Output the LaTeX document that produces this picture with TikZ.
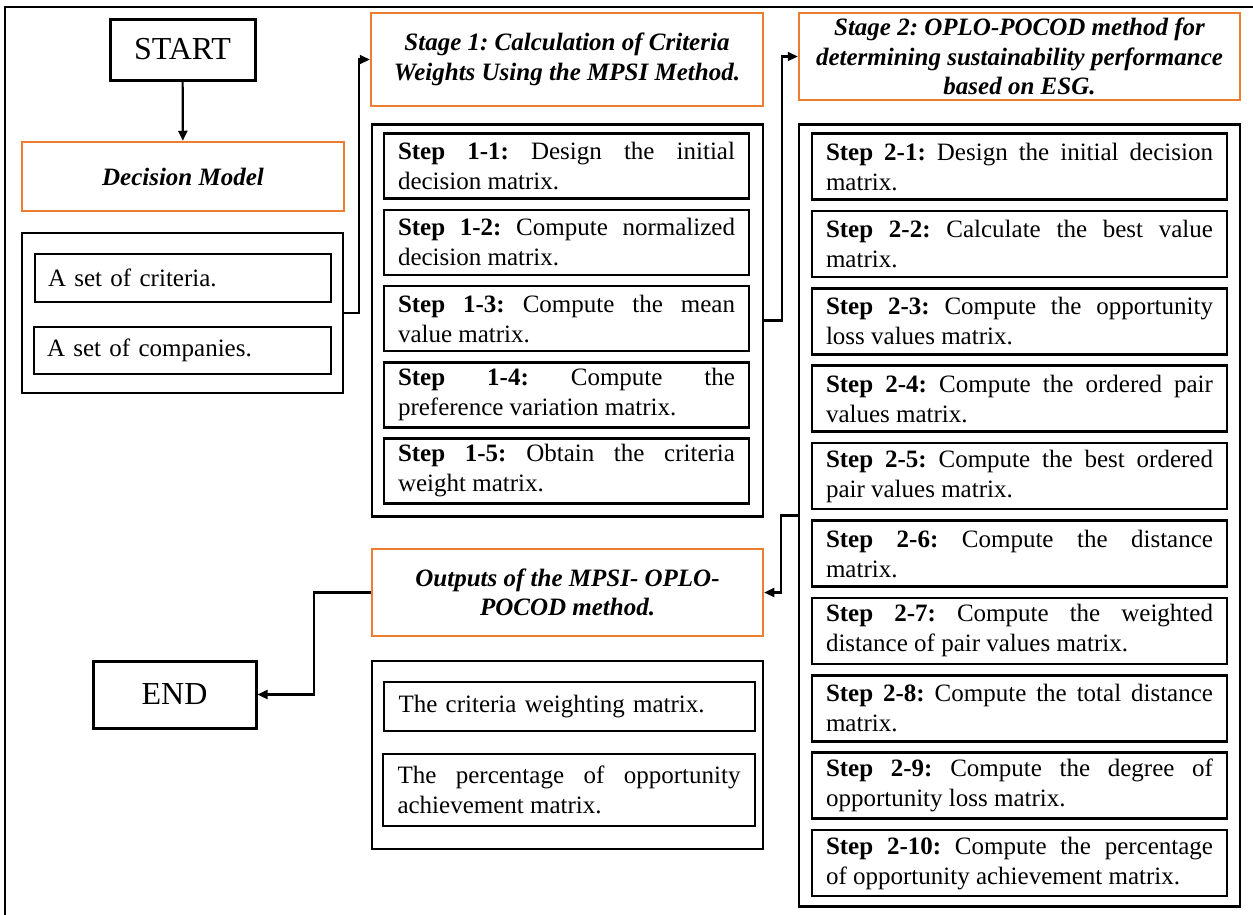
\documentclass[tikz,border=0pt]{standalone}
\usepackage{fontspec}
\setmainfont{Liberation Serif}
\usetikzlibrary{arrows.meta}
\tolerance=9999
\hyphenpenalty=10000
\frenchspacing
\definecolor{esgorange}{RGB}{237,125,49}
\tikzset{
  body/.style={font=\fontsize{25}{30}\selectfont},
  termbox/.style={draw, line width=3pt, inner sep=0pt, font=\fontsize{32}{38}\selectfont},
  headbox/.style={draw=esgorange, line width=2.5pt, inner sep=0pt, align=center,
    font=\fontsize{25}{29.5}\selectfont\bfseries\itshape},
  groupbox/.style={draw, line width=2.5pt, inner sep=0pt},
  stepbox/.style={draw, line width=2.5pt, body, align=justify, inner xsep=14pt, inner ysep=0pt},
  itembox/.style={draw, line width=2.5pt, body, align=left, inner xsep=13pt, inner ysep=0pt},
  arr/.style={line width=2.2pt, -{Triangle[length=10pt,width=9pt]}}
}
\begin{document}
\begin{tikzpicture}[x=1pt, y=-1pt]
  \useasboundingbox (0,0) rectangle (1253,914);
  \draw[line width=2pt] (5,940) -- (5,7) -- (1280,7);

  % left column
  \node[termbox, minimum width=145, minimum height=61] (start) at (182.5,49.5) {START};
  \node[headbox, minimum width=322, minimum height=69] (decision) at (183,176.5) {Decision Model};
  \node[groupbox, minimum width=321, minimum height=160] (grp0) at (182.5,313) {};
  \node[itembox, text width=270, minimum height=48] (crit) at (183,278) {A set of criteria.};
  \node[itembox, text width=271, minimum height=47] (comp) at (182.5,350.5) {A set of companies.};
  \node[termbox, minimum width=163, minimum height=67] (end) at (174.5,694.5) {END};

  % stage 1
  \node[headbox, minimum width=392, minimum height=93] (stage1) at (567,59.5)
    {Stage 1: Calculation of Criteria\\Weights Using the MPSI Method.};
  \node[groupbox, minimum width=391, minimum height=392] (grp1) at (567.5,320.5) {};
  \foreach \i/\txt in {1/{Design the initial\linebreak decision matrix.},
                       2/{Compute normalized\linebreak decision matrix.},
                       3/{Compute the mean\linebreak value matrix.},
                       4/{Compute the\linebreak preference variation matrix.},
                       5/{Obtain the criteria\linebreak weight matrix.}}
    \node[stepbox, text width=337, minimum height=65] (s1-\i) at (566.5,{166+76.25*(\i-1)})
      {\textbf{Step 1-\i:} \txt};

  % stage 2
  \node[headbox, minimum width=441, minimum height=87] (stage2) at (1019.5,56.5)
    {Stage 2: OPLO-POCOD method for\\determining sustainability performance\\based on ESG.};
  \node[groupbox, minimum width=441, minimum height=782] (grp2) at (1019.5,515.5) {};
  \foreach \i/\txt in {1/{Design the initial decision\linebreak matrix.},
                       2/{Calculate the best value\linebreak matrix.},
                       3/{Compute the opportunity\linebreak loss values matrix.},
                       4/{Compute the ordered pair\linebreak values matrix.},
                       5/{Compute the best ordered\linebreak pair values matrix.},
                       6/{Compute the distance\linebreak matrix.},
                       7/{Compute the weighted\linebreak distance of pair values matrix.},
                       8/{Compute the total distance\linebreak matrix.},
                       9/{Compute the degree of\linebreak opportunity loss matrix.},
                       10/{Compute the percentage\linebreak of opportunity achievement matrix.}}
    \node[stepbox, text width=387, minimum height=66] (s2-\i) at (1019.5,{166.5+77.4*(\i-1)})
      {\textbf{Step 2-\i:} \txt};

  % outputs
  \node[headbox, minimum width=391, minimum height=87] (outputs) at (567.5,592.5)
    {Outputs of the MPSI- OPLO-\\POCOD method.};
  \node[groupbox, minimum width=391, minimum height=188] (grp3) at (567.5,755) {};
  \node[itembox, text width=342, inner xsep=14.5pt, minimum height=49] (out1) at (569.5,706.5)
    {The criteria weighting matrix.};
  \node[itembox, text width=343, inner xsep=14.5pt, minimum height=72, align=justify] (out2) at (569,790)
    {The percentage of opportunity\linebreak achievement matrix.};

  % connectors
  \draw[arr] (start) -- (decision);
  \draw[arr] (grp0.east) -- ++(15,0) |- (stage1.west);
  \draw[arr] (grp1.east) -- ++(18,0) |- (stage2.west);
  \draw[arr] (grp2.west) -- ++(-17,0) |- (outputs.east);
  \draw[arr] (outputs.west) -- ++(-57,0) |- (end.east);
\end{tikzpicture}
\end{document}
